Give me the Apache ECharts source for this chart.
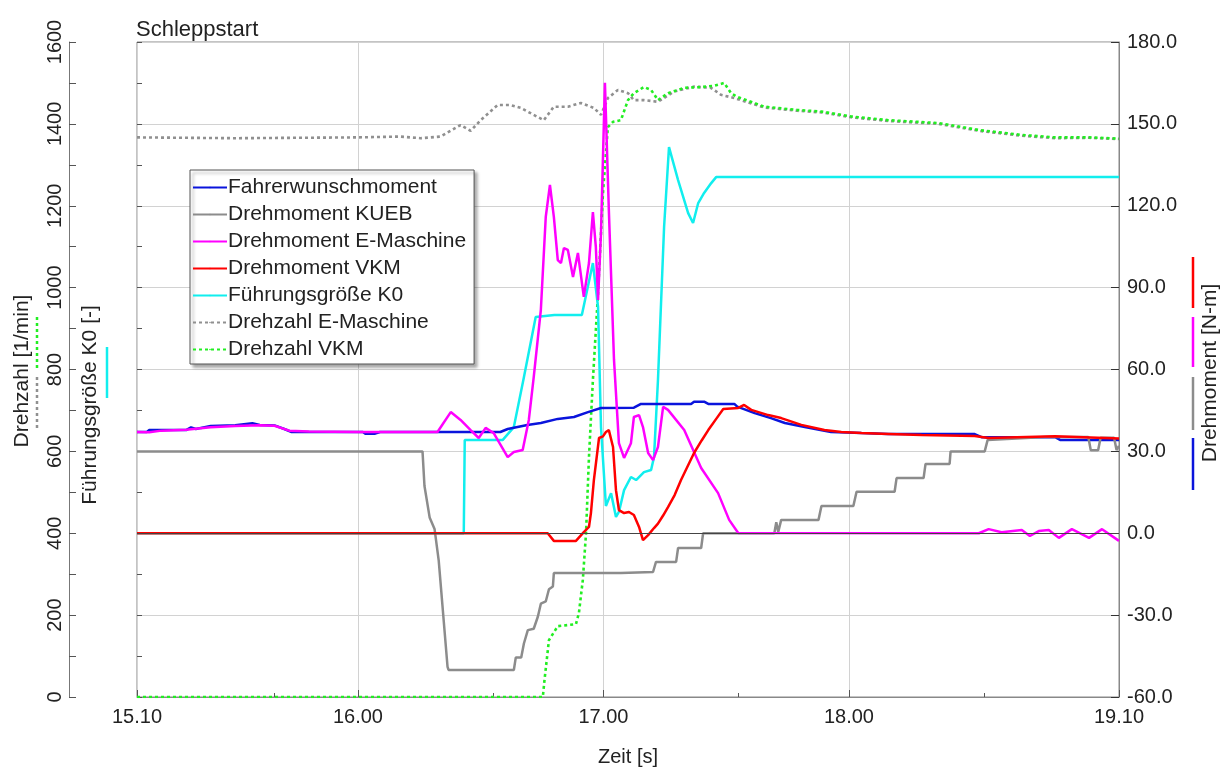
<!DOCTYPE html>
<html>
<head>
<meta charset="utf-8">
<script src="https://cdn.jsdelivr.net/npm/echarts@6/dist/echarts.min.js"></script>
<style>
  html, body { margin: 0; padding: 0; background: #fff; }
  #main { width: 1221px; height: 767px; }
</style>
</head>
<body>
<div id="main"></div>
<script>
// x axis ticks (Zeit [s])
const xTicks = [15.1, 16, 17, 18, 19.1];
const xMinorTicks = [15.66, 16.55, 17.55, 18.55];

const legendNames = ['Fahrerwunschmoment', 'Drehmoment KUEB', 'Drehmoment E-Maschine',
  'Drehmoment VKM', 'Führungsgröße K0', 'Drehzahl E-Maschine', 'Drehzahl VKM'];

// [t in s, torque in N-m]
const fahrerwunschmoment = [
  [15.10, 37.1], [15.14, 37.1], [15.15, 37.8], [15.30, 37.8], [15.32, 38.8], [15.34, 38.2],
  [15.36, 38.6], [15.40, 39.3], [15.50, 39.6], [15.57, 40.3], [15.60, 39.7], [15.66, 39.5],
  [15.70, 38.2], [15.73, 37.1], [16.02, 37.1], [16.03, 36.5], [16.07, 36.5], [16.09, 37.1],
  [16.58, 37.1], [16.61, 38.2], [16.69, 39.7], [16.745, 40.4], [16.814, 41.9], [16.88, 42.6],
  [16.937, 44.4], [16.99, 45.9], [17.124, 46.0], [17.153, 47.4], [17.357, 47.4], [17.369, 48.2],
  [17.41, 48.2], [17.427, 47.4], [17.533, 47.4], [17.545, 46.4], [17.616, 44.0], [17.682, 42.2],
  [17.739, 40.4], [17.82, 38.9], [17.927, 37.1], [18.051, 36.7], [18.16, 36.4], [18.51, 36.4],
  [18.54, 35.2], [18.84, 35.2], [18.86, 34.2], [19.10, 34.2]
];

const drehmomentKueb = [
  [15.10, 30.0], [16.263, 30.0], [16.271, 17.3], [16.292, 5.8], [16.312, 1.6], [16.329, -10.0],
  [16.365, -49.0], [16.369, -50.1], [16.635, -50.1], [16.643, -45.5], [16.665, -45.5],
  [16.676, -40.4], [16.692, -35.5], [16.716, -35.0], [16.733, -30.5], [16.745, -25.8],
  [16.765, -25.0], [16.778, -20.5], [16.794, -19.5], [16.798, -14.6], [17.071, -14.6],
  [17.202, -14.2], [17.214, -10.5], [17.296, -10.5], [17.304, -5.4], [17.398, -5.4],
  [17.406, 0.0], [17.696, 0.0], [17.704, 4.0], [17.712, 0.5], [17.724, 4.9], [17.876, 4.9],
  [17.888, 10.0], [18.018, 10.0], [18.031, 15.2], [18.186, 15.2], [18.194, 20.2], [18.304, 20.2],
  [18.312, 25.4], [18.410, 25.4], [18.414, 30.0], [18.553, 30.0], [18.565, 34.2], [18.80, 35.3],
  [18.975, 35.3], [18.985, 30.4], [19.015, 30.4], [19.025, 35.0], [19.08, 35.0], [19.09, 30.5],
  [19.10, 32.0]
];

const drehmomentEMaschine = [
  [15.10, 37.1], [15.15, 37.0], [15.20, 37.6], [15.30, 37.9], [15.40, 38.8], [15.50, 39.3],
  [15.60, 39.6], [15.66, 39.4], [15.72, 37.6], [15.80, 37.3], [16.00, 37.1], [16.324, 37.1],
  [16.378, 44.4], [16.418, 41.5], [16.459, 37.8], [16.492, 34.9], [16.520, 38.6], [16.553, 36.7],
  [16.610, 27.9], [16.635, 29.8], [16.671, 30.5], [16.696, 41.5], [16.716, 57.2], [16.745, 81.8],
  [16.765, 115.9], [16.782, 127.6], [16.798, 115.9], [16.814, 100.1], [16.827, 99.0],
  [16.839, 104.5], [16.855, 103.8], [16.876, 93.9], [16.896, 102.7], [16.920, 86.6],
  [16.941, 99.0], [16.957, 117.7], [16.969, 104.9], [16.978, 85.5], [16.990, 110.0],
  [17.006, 165.1], [17.022, 118.4], [17.043, 63.5], [17.063, 33.0], [17.084, 27.6],
  [17.112, 33.0], [17.124, 42.6], [17.145, 43.3], [17.161, 38.9], [17.182, 29.4], [17.202, 26.8],
  [17.222, 31.6], [17.243, 46.3], [17.263, 45.2], [17.329, 37.8], [17.398, 23.9], [17.467, 14.7],
  [17.512, 4.9], [17.549, 0.1], [18.529, 0.0], [18.569, 1.5], [18.622, 0.4], [18.704, 1.2],
  [18.737, -1.0], [18.773, 0.8], [18.814, 1.2], [18.855, -1.7], [18.908, 1.5], [18.978, -1.7],
  [19.031, 1.5], [19.10, -2.8]
];

const drehmomentVkm = [
  [15.10, 0.0], [16.773, 0.0], [16.798, -2.8], [16.888, -2.8], [16.920, 0.4], [16.941, 2.3],
  [16.949, 7.4], [16.961, 19.5], [16.969, 20.2], [16.982, 34.9], [16.998, 35.5], [17.010, 37.1],
  [17.022, 37.8], [17.039, 31.6], [17.051, 15.8], [17.063, 8.5], [17.084, 7.4], [17.104, 7.8],
  [17.124, 6.7], [17.145, 2.3], [17.161, -2.5], [17.182, -0.7], [17.206, 1.9], [17.222, 3.5],
  [17.243, 6.5], [17.263, 9.6], [17.290, 14.0], [17.316, 19.5], [17.340, 24.0], [17.369, 29.4],
  [17.400, 34.0], [17.427, 37.8], [17.460, 42.0], [17.488, 45.5], [17.549, 45.9], [17.573, 47.0],
  [17.602, 45.2], [17.671, 43.3], [17.724, 42.2], [17.806, 39.7], [17.900, 37.8], [17.969, 37.1],
  [18.051, 36.7], [18.161, 36.4], [18.296, 36.0], [18.512, 35.6], [18.569, 34.9], [18.839, 35.5],
  [19.10, 34.7]
];

// [t in s, K0 in -]
const fuehrungsgroesseK0 = [
  [15.10, 0.0], [16.431, 0.0], [16.435, 0.342], [16.590, 0.342], [16.635, 0.389], [16.676, 0.572],
  [16.724, 0.792], [16.80, 0.80], [16.912, 0.80], [16.957, 0.99], [16.978, 0.829], [16.990, 0.389],
  [17.010, 0.10], [17.031, 0.147], [17.051, 0.06], [17.063, 0.078], [17.084, 0.158],
  [17.112, 0.206], [17.133, 0.195], [17.165, 0.224], [17.194, 0.232], [17.206, 0.279],
  [17.222, 0.56], [17.247, 1.122], [17.267, 1.415], [17.304, 1.294], [17.345, 1.173],
  [17.365, 1.137], [17.386, 1.21], [17.410, 1.247], [17.439, 1.283], [17.459, 1.305], [19.10, 1.305]
];

// [t in s, speed in 1/min]
const drehzahlEMaschine = [
  [15.10, 1367], [15.50, 1365], [16.00, 1367], [16.173, 1369], [16.255, 1365], [16.337, 1369],
  [16.418, 1397], [16.459, 1383], [16.500, 1409], [16.569, 1446], [16.622, 1446], [16.663, 1439],
  [16.716, 1422], [16.757, 1409], [16.798, 1442], [16.855, 1442], [16.908, 1451], [16.961, 1439],
  [16.990, 1422], [17.018, 1463], [17.059, 1483], [17.100, 1475], [17.124, 1458], [17.165, 1458],
  [17.222, 1454], [17.288, 1479], [17.369, 1491], [17.438, 1488], [17.479, 1471], [17.533, 1463],
  [17.655, 1440], [17.790, 1432], [17.888, 1428], [18.010, 1416], [18.161, 1407], [18.365, 1400],
  [18.529, 1383], [18.704, 1371], [18.839, 1365], [18.978, 1366], [19.10, 1363]
];

const drehzahlVkm = [
  [15.10, 0], [16.753, 0], [16.760, 42], [16.778, 139], [16.814, 173], [16.888, 178], [16.900, 205],
  [16.916, 286], [16.929, 400], [16.941, 586], [16.957, 774], [16.978, 987], [16.998, 1231],
  [17.018, 1392], [17.039, 1405], [17.071, 1409], [17.100, 1458], [17.124, 1475], [17.165, 1490],
  [17.194, 1483], [17.222, 1458], [17.263, 1475], [17.329, 1488], [17.398, 1490], [17.451, 1493],
  [17.492, 1500], [17.520, 1475], [17.545, 1466], [17.655, 1442], [17.790, 1434], [17.888, 1430],
  [18.010, 1418], [18.161, 1409], [18.365, 1402], [18.529, 1385], [18.704, 1373], [18.839, 1367],
  [18.978, 1367], [19.10, 1364]
];

const FONT = '"Liberation Sans", Arial, sans-serif';
const TXT = '#222';

var chart = echarts.init(document.getElementById('main'), null, { renderer: 'canvas' });

function lineSeries(name, data, color, xi, yi, dashed) {
  return {
    name: name,
    type: 'line',
    xAxisIndex: xi,
    yAxisIndex: yi,
    data: data,
    symbol: 'none',
    showSymbol: false,
    animation: false,
    lineStyle: { color: color, width: dashed ? 2.6 : 2.5, type: dashed ? [3, 3] : 'solid' },
    itemStyle: { color: color }
  };
}

var gridPos = { left: 137, right: 102, top: 42, bottom: 70 };

var option = {
  backgroundColor: '#ffffff',
  animation: false,
  title: {
    text: 'Schleppstart',
    left: 136, top: 19, padding: 0,
    textStyle: { fontSize: 22, fontWeight: 'normal', color: TXT, fontFamily: FONT }
  },
  legend: {
    orient: 'vertical',
    left: 190, top: 170,
    data: legendNames,
    selectedMode: false,
    // tiny item height so the legend symbol dot disappears under the line
    itemWidth: 34, itemHeight: 2, itemGap: 6,
    padding: [7, 8, 4, 2],
    backgroundColor: '#fff',
    borderColor: '#555', borderWidth: 1,
    shadowColor: 'rgba(0,0,0,0.35)', shadowBlur: 3, shadowOffsetX: 3, shadowOffsetY: 3,
    textStyle: { fontSize: 21, lineHeight: 21, color: TXT, fontFamily: FONT, padding: [0, 0, 0, -4] }
  },
  grid: [
    Object.assign({ show: true, borderColor: '#888', borderWidth: 1, backgroundColor: '#fff' }, gridPos),
    Object.assign({ show: false }, gridPos)
  ],
  xAxis: [{
    type: 'value', gridIndex: 0, min: 15.1, max: 19.1,
    axisLine: { lineStyle: { color: '#888' } },
    axisTick: { inside: true, length: 7, customValues: xTicks, lineStyle: { color: '#555' } },
    axisLabel: {
      customValues: xTicks, margin: 10, fontSize: 20, color: TXT, fontFamily: FONT,
      formatter: function (v) { return v.toFixed(2); }
    },
    splitLine: { show: true, lineStyle: { color: '#d2d2d2' } }
  }, {
    type: 'value', gridIndex: 1, min: 15.1, max: 19.1,
    axisLine: { show: false },
    axisTick: { inside: true, length: 4, customValues: xMinorTicks, lineStyle: { color: '#555' } },
    axisLabel: { show: false },
    splitLine: { show: false }
  }],
  yAxis: [{
    // Drehzahl [1/min]
    type: 'value', gridIndex: 0, position: 'left', offset: 68,
    min: 0, max: 1600, interval: 200,
    axisLine: { show: true, lineStyle: { color: '#777' } },
    axisTick: { show: true, inside: true, length: 7, lineStyle: { color: '#555' } },
    minorTick: { show: true, splitNumber: 2, length: 7, lineStyle: { color: '#555' } },
    axisLabel: {
      rotate: 90, margin: 4, fontSize: 20, color: TXT, fontFamily: FONT,
      formatter: function (v) { return String(v); }
    },
    splitLine: { show: true, lineStyle: { color: '#d2d2d2' } }
  }, {
    // Drehmoment [N-m]
    type: 'value', gridIndex: 0, position: 'right',
    min: -60, max: 180, interval: 30,
    axisLine: { show: true, lineStyle: { color: '#888' } },
    axisTick: { show: true, inside: true, length: 8, lineStyle: { color: '#333' } },
    axisLabel: {
      margin: 8, fontSize: 20, color: TXT, fontFamily: FONT,
      formatter: function (v) { return v.toFixed(1); }
    },
    splitLine: { show: false }
  }, {
    // ticks on the left edge of the plot
    type: 'value', gridIndex: 1, position: 'left',
    min: 0, max: 1600, interval: 200,
    axisLine: { show: false },
    axisTick: { show: true, inside: true, length: 5, lineStyle: { color: '#555' } },
    minorTick: { show: true, splitNumber: 2, length: 5, lineStyle: { color: '#555' } },
    axisLabel: { show: false },
    splitLine: { show: false }
  }, {
    // Führungsgröße K0 [-], hidden scale
    type: 'value', gridIndex: 1, position: 'right', show: false,
    min: -0.6, max: 1.8
  }],
  graphic: [
    { type: 'text', x: 22, y: 371, rotation: Math.PI / 2,
      style: { text: 'Drehzahl [1/min]', fontSize: 21, fontFamily: FONT, fill: TXT, align: 'center', verticalAlign: 'middle' } },
    { type: 'line', shape: { x1: 37, y1: 377, x2: 37, y2: 430 },
      style: { stroke: '#909090', lineWidth: 2.5, lineDash: [3, 3] } },
    { type: 'line', shape: { x1: 37, y1: 317, x2: 37, y2: 370 },
      style: { stroke: '#22ee22', lineWidth: 2.5, lineDash: [3, 3] } },
    { type: 'text', x: 90, y: 405, rotation: Math.PI / 2,
      style: { text: 'Führungsgröße K0 [-]', fontSize: 21, fontFamily: FONT, fill: TXT, align: 'center', verticalAlign: 'middle' } },
    { type: 'line', shape: { x1: 107, y1: 347, x2: 107, y2: 398 },
      style: { stroke: '#11eeee', lineWidth: 2.5 } },
    { type: 'text', x: 1210, y: 373, rotation: Math.PI / 2,
      style: { text: 'Drehmoment [N-m]', fontSize: 21, fontFamily: FONT, fill: TXT, align: 'center', verticalAlign: 'middle' } },
    { type: 'line', shape: { x1: 1193, y1: 257, x2: 1193, y2: 308 }, style: { stroke: '#ff0000', lineWidth: 2.5 } },
    { type: 'line', shape: { x1: 1193, y1: 317, x2: 1193, y2: 367 }, style: { stroke: '#ff00ff', lineWidth: 2.5 } },
    { type: 'line', shape: { x1: 1193, y1: 377, x2: 1193, y2: 430 }, style: { stroke: '#8c8c8c', lineWidth: 2.5 } },
    { type: 'line', shape: { x1: 1193, y1: 438, x2: 1193, y2: 490 }, style: { stroke: '#0a14dc', lineWidth: 2.5 } },
    { type: 'text', x: 628, y: 757,
      style: { text: 'Zeit [s]', fontSize: 20, fontFamily: FONT, fill: TXT, align: 'center', verticalAlign: 'middle' } }
  ],
  series: [
    lineSeries('Drehzahl E-Maschine', drehzahlEMaschine, '#909090', 0, 0, true),
    lineSeries('Drehzahl VKM', drehzahlVkm, '#22ee22', 0, 0, true),
    lineSeries('Führungsgröße K0', fuehrungsgroesseK0, '#11eeee', 1, 3, false),
    lineSeries('Fahrerwunschmoment', fahrerwunschmoment, '#0a14dc', 0, 1, false),
    lineSeries('Drehmoment KUEB', drehmomentKueb, '#8c8c8c', 0, 1, false),
    lineSeries('Drehmoment E-Maschine', drehmomentEMaschine, '#ff00ff', 0, 1, false),
    Object.assign(lineSeries('Drehmoment VKM', drehmomentVkm, '#ff0000', 0, 1, false), {
      markLine: {
        silent: true, symbol: 'none', animation: false,
        label: { show: false },
        lineStyle: { color: '#444', width: 1, type: 'solid' },
        data: [{ yAxis: 0 }]
      }
    })
  ]
};

chart.setOption(option);
</script>
</body>
</html>
